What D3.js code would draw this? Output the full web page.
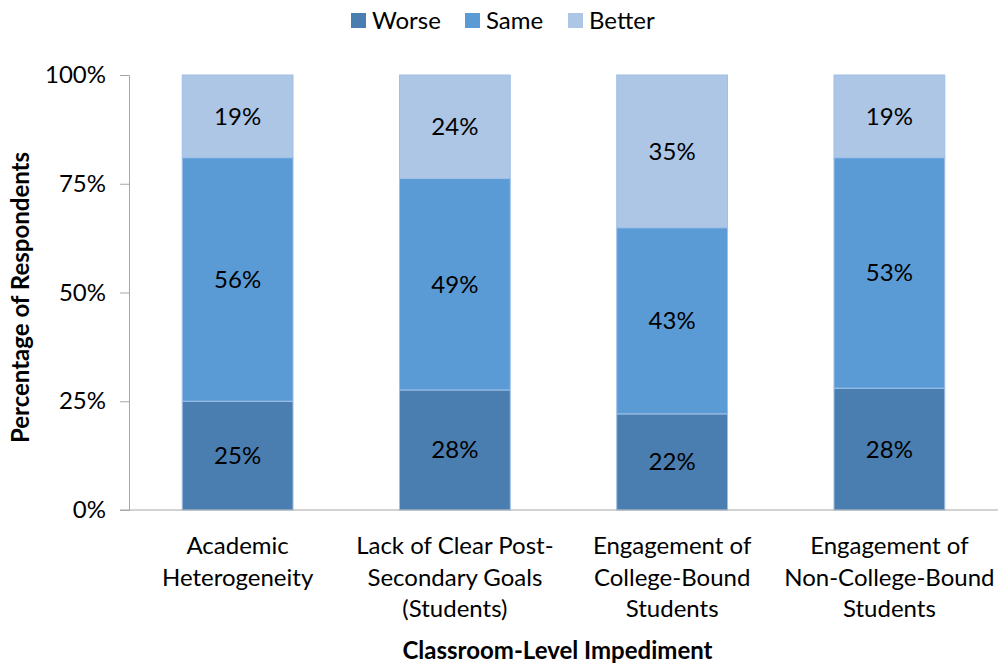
<!DOCTYPE html>
<html>
<head>
<meta charset="utf-8">
<script src="https://cdn.jsdelivr.net/npm/d3@7"></script>
<style>
  body { margin: 0; background: #fff; }
  text { font-family: Lato, "Noto Sans", sans-serif; fill: #000; }
</style>
</head>
<body>
<div id="chart"></div>
<script>
var svgWidth = 998;
var svgHeight = 663;

// data
var categories = [
    ["Academic", "Heterogeneity"],
    ["Lack of Clear Post-", "Secondary Goals", "(Students)"],
    ["Engagement of", "College-Bound", "Students"],
    ["Engagement of", "Non-College-Bound", "Students"]
];
var seriesNames = ["Worse", "Same", "Better"];
var worse = [25, 27.6, 22.1, 28];
var same = [56, 48.6, 42.8, 53];
var better = [19, 23.8, 35.1, 19];
var yTicks = [0, 25, 50, 75, 100];
var colors = ["#4a7eb0", "#5b9bd5", "#adc6e5"];

var fontSize = "24px";

var margin = { top: 75, right: 0, bottom: 153, left: 129 };
var width = svgWidth - margin.left - margin.right;
var height = svgHeight - margin.top - margin.bottom;

var svg = d3.select("#chart").append("svg")
    .attr("width", svgWidth)
    .attr("height", svgHeight);

var chartGroup = svg.append("g")
    .attr("transform", `translate(${margin.left}, ${margin.top})`);

var rows = categories.map(function (c, i) {
    return { idx: i, Worse: worse[i], Same: same[i], Better: better[i] };
});
var stacked = d3.stack().keys(seriesNames)(rows);

var xScale = d3.scaleBand()
    .domain(d3.range(categories.length))
    .range([0, width])
    .paddingInner(0.49)
    .paddingOuter(0.245);

var yScale = d3.scaleLinear()
    .domain([0, 100])
    .range([height, 0]);

// y axis
var leftAxis = d3.axisLeft(yScale)
    .tickValues(yTicks)
    .tickSize(9)
    .tickPadding(14)
    .tickFormat(d => d + "%");
var yAxisG = chartGroup.append("g").call(leftAxis);
yAxisG.select(".domain").attr("stroke", "#a6a6a6");
yAxisG.selectAll(".tick line").attr("stroke", "#a6a6a6");
yAxisG.selectAll(".tick text").attr("font-size", fontSize).attr("fill", "#000")
    .style("font-family", "Lato, 'Noto Sans', sans-serif");

// bars
var layers = chartGroup.selectAll(".layer")
    .data(stacked)
    .enter()
    .append("g")
    .attr("fill", (d, i) => colors[i]);

layers.selectAll("rect")
    .data(d => d)
    .enter()
    .append("rect")
    .attr("x", d => xScale(d.data.idx))
    .attr("y", d => yScale(d[1]))
    .attr("width", xScale.bandwidth())
    .attr("height", d => yScale(d[0]) - yScale(d[1]))
    .attr("stroke", "#9fc0e6")
    .attr("stroke-width", 1);

layers.selectAll("text")
    .data(d => d)
    .enter()
    .append("text")
    .attr("x", d => xScale(d.data.idx) + xScale.bandwidth() / 2)
    .attr("y", d => (yScale(d[0]) + yScale(d[1])) / 2)
    .attr("dy", "0.35em")
    .attr("text-anchor", "middle")
    .attr("font-size", fontSize)
    .text(d => Math.round(d[1] - d[0]) + "%");

// x axis line
chartGroup.append("line")
    .attr("x1", -9)
    .attr("x2", width)
    .attr("y1", height)
    .attr("y2", height)
    .attr("stroke", "#a6a6a6");

// category labels
var catLabels = chartGroup.selectAll(".cat")
    .data(categories)
    .enter()
    .append("text")
    .attr("text-anchor", "middle")
    .attr("font-size", fontSize)
    .attr("transform", (d, i) => `translate(${xScale(i) + xScale.bandwidth() / 2}, ${height + 44})`);

catLabels.selectAll("tspan")
    .data(d => d)
    .enter()
    .append("tspan")
    .attr("x", 0)
    .attr("y", (d, i) => i * 31.5)
    .text(d => d);

// axis titles
svg.append("text")
    .attr("x", margin.left + width / 2 - 6)
    .attr("y", 659)
    .attr("text-anchor", "middle")
    .attr("font-size", fontSize)
    .attr("font-weight", "bold")
    .text("Classroom-Level Impediment");

svg.append("text")
    .attr("transform", `translate(29, ${margin.top + height / 2 + 5}) rotate(-90)`)
    .attr("text-anchor", "middle")
    .attr("font-size", fontSize)
    .attr("font-weight", "bold")
    .text("Percentage of Respondents");

// legend
var legendX = [351, 465, 568];
var legend = svg.selectAll(".legend")
    .data(seriesNames)
    .enter()
    .append("g")
    .attr("transform", (d, i) => `translate(${legendX[i]}, 13)`);

legend.append("rect")
    .attr("width", 15)
    .attr("height", 15)
    .attr("fill", (d, i) => colors[i]);

legend.append("text")
    .attr("x", 21)
    .attr("y", 8)
    .attr("dy", "0.35em")
    .attr("font-size", fontSize)
    .text(d => d);
</script>
</body>
</html>
